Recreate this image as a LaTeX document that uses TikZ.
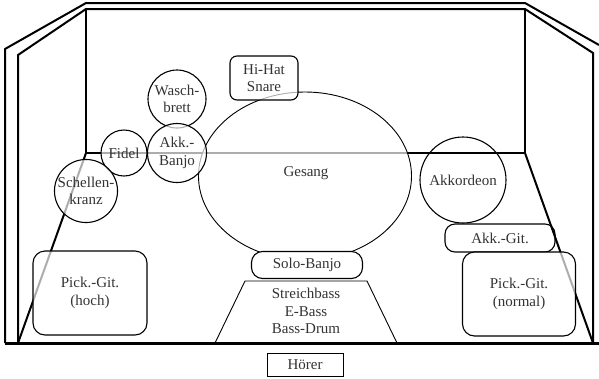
\documentclass[tikz,border=0pt]{standalone}
\usepackage{fontspec}
\setmainfont{Liberation Serif}
\usetikzlibrary{shapes.geometric}

\begin{document}
\begin{tikzpicture}[x=1bp, y=-1bp,
    font=\fontsize{15bp}{17.5bp}\selectfont, text=black!80,
    wall/.style={line width=2bp, line join=miter},
    veil/.style={fill=white, fill opacity=0.68, text opacity=1},
    player/.style={circle, draw, line width=1.1bp, inner sep=0pt, align=center},
    spot/.style={rectangle, draw, line width=1.1bp, inner sep=0pt, align=center}]
        \useasboundingbox (0,0) rectangle (599,378);

        % Walls
        \coordinate (bl) at (86,153);
        \coordinate (br) at (525,153);
        \draw[wall] (5,343) -- (5,49) -- (86,3) -- (525,3) -- (599,45);
        \draw[wall] (18,343) -- (18,55) -- (86,9) -- (525,9) -- (593,53) -- (593,343);
        \draw[wall] (86,9) -- (bl) -- (br) -- (525,9);
        \draw[wall] (bl) -- (18,343);
        \draw[wall] (br) -- (593,343);
        \draw[line width=3bp] (5,343) -- (599,343);

        % Nodes
        \node (gesang) [ellipse, draw, line width=0.9bp, veil, inner sep=0pt, minimum width=213bp, minimum height=168bp] at (305,176) {};
        \node (gesangtxt) at (306,173) {Gesang};
        \node (hihat) [spot, veil, rounded corners=7bp, minimum width=68bp, minimum height=44bp] at (264,78) {Hi-Hat\\Snare};
        \node (wasch) [player, minimum size=58bp] at (177,99) {Wasch-\\brett};
        \node (akkbanjo) [player, veil, minimum size=59bp] at (177,153) {Akk.-\\Banjo};
        \node (fidel) [player, veil, minimum size=46bp] at (124,153) {Fidel};
        \node (schellen) [player, veil, minimum size=61bp] at (86,191) {Schellen-\\kranz};
        \node (akkordeon) [player, minimum size=86bp] at (463,180) {Akkordeon};
        \node (akkgit) [spot, rounded corners=10bp, minimum width=110bp, minimum height=28bp] at (500,238) {Akk.-Git.};
        \node (pickhoch) [spot, veil, rounded corners=12bp, minimum width=114bp, minimum height=84bp] at (90,293) {Pick.-Git.\\(hoch)};
        \node (picknormal) [spot, veil, rounded corners=12bp, minimum width=113bp, minimum height=84bp] at (519,294) {Pick.-Git.\\(normal)};
        \node (solobanjo) [spot, fill=white, rounded corners=11bp, minimum width=111bp, minimum height=27bp] at (307,265) {Solo-Banjo};

        % Bass riser
        \draw[line width=0.9bp] (215,343) -- (245,281) -- (367,281) -- (397,343);
        \node (bass) [align=center] at (306,311) {Streichbass\\E-Bass\\Bass-Drum};

        % Audience
        \node (hoerer) [rectangle, draw, line width=0.8bp, minimum width=76bp, minimum height=23bp, inner sep=0pt] at (305,365) {Hörer};
    \end{tikzpicture}
\end{document}
